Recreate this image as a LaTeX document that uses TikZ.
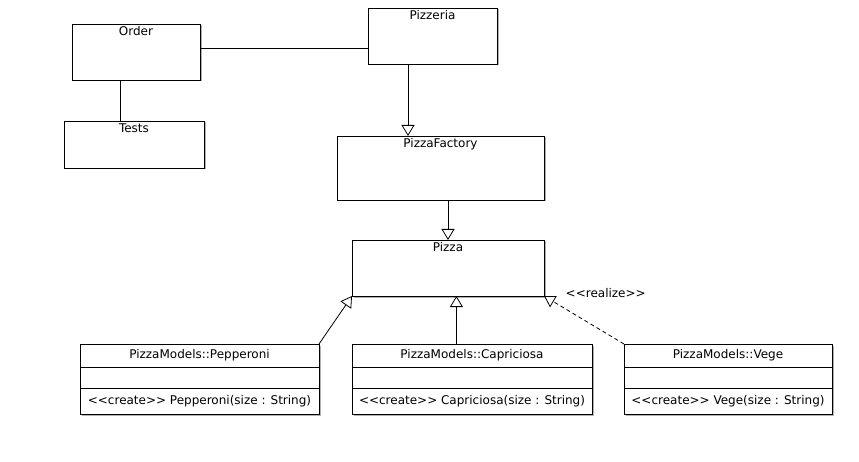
\documentclass[tikz,border=0pt]{standalone}
\usepackage{fontspec}
\setmainfont{DejaVu Sans}
\usetikzlibrary{arrows.meta,positioning,calc,shadows}
\newcommand{\stereo}[1]{<\kern0pt<#1>\kern0pt>}

\begin{document}
\begin{tikzpicture}[x=1pt,y=-1pt,line width=0.8pt,
  font=\fontsize{12}{14}\selectfont,
  shade/.style={drop shadow={shadow xshift=1.5pt,shadow yshift=-1.5pt,fill=black!30,opacity=1}},
  cls/.style 2 args={draw,fill=white,shade,minimum width=#1,minimum height=#2,anchor=north west,inner sep=0pt,outer sep=0pt},
  member/.style 2 args={draw,fill=white,shade,minimum width=#1,minimum height=#2,inner sep=0pt,outer sep=0pt},
  title/.style={anchor=north,inner sep=2pt},
  gen/.style={-{Triangle[length=11pt,width=13pt,fill=white]}}
]
\fill[white] (0,0) rectangle (859,462);
\useasboundingbox (0,0) rectangle (859,462);

% plain classes
\node[cls={128pt}{56pt},label={[title]north:Order}] (order) at (72,24) {};
\node[cls={129pt}{56pt},label={[title]north:Pizzeria}] (pizzeria) at (368,8) {};
\node[cls={140pt}{47pt},label={[title]north:Tests}] (tests) at (64,121) {};
\node[cls={207pt}{64pt},label={[title]north:PizzaFactory}] (factory) at (337,136) {};
\node[cls={192pt}{56pt},label={[title]north:Pizza}] (pizza) at (352,240) {};

% models
\node[member={239pt}{23pt},anchor=north west] (pepName) at (80,344) {PizzaModels::Pepperoni};
\node[member={239pt}{21pt},below=0pt of pepName] (pepAttr) {};
\node[member={239pt}{26pt},below=0pt of pepAttr] (pepOps) {\stereo{create} Pepperoni(size : String)};

\node[member={240pt}{23pt},anchor=north west] (capName) at (352,344) {PizzaModels::Capriciosa};
\node[member={240pt}{21pt},below=0pt of capName] (capAttr) {};
\node[member={240pt}{26pt},below=0pt of capAttr] (capOps) {\stereo{create} Capriciosa(size : String)};

\node[member={208pt}{23pt},anchor=north west] (vegName) at (624,344) {PizzaModels::Vege};
\node[member={208pt}{21pt},below=0pt of vegName] (vegAttr) {};
\node[member={208pt}{26pt},below=0pt of vegAttr] (vegOps) {\stereo{create} Vege(size : String)};

% connectors
\coordinate (oe) at ($(order.north east)!0.43!(order.south east)$);
\draw (oe) -- (oe -| pizzeria.west);
\coordinate (os) at ($(order.south west)!0.375!(order.south east)$);
\draw (os) -- (os |- tests.north);
\coordinate (ps) at ($(pizzeria.south west)!0.31!(pizzeria.south east)$);
\draw[gen] (ps) -- (ps |- factory.north);
\draw[gen] (factory.south -| pizza.north) -- (pizza.north);

\draw[gen] (pepName.north east) -- (pizza.south west);
\coordinate (cn) at ($(capName.north west)!0.435!(capName.north east)$);
\draw[gen] (cn) -- (cn |- pizza.south);
\draw[gen,dash pattern=on 4pt off 3pt] (vegName.north west) -- (pizza.south east)
  node[pos=1,anchor=west,xshift=18pt,yshift=3pt,solid] (real) {\stereo{realize}};
\end{tikzpicture}
\end{document}
